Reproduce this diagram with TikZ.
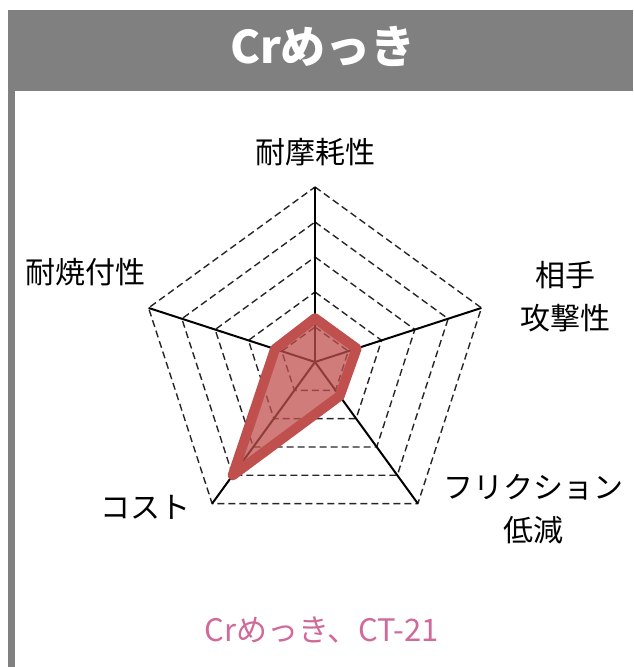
\documentclass[tikz,border=0pt]{standalone}
\usepackage{fontspec}
\setmainfont{Noto Sans CJK JP}
\usetikzlibrary{calc}
\definecolor{framegray}{RGB}{128,128,128}
\definecolor{chartred}{RGB}{192,80,77}
\definecolor{captionpink}{RGB}{207,106,155}
\begin{document}
\begin{tikzpicture}[x=1pt, y=-1pt,
        every node/.style={font=\fontsize{30}{43}\selectfont, align=center, inner sep=0pt},
        ring/.style={dash pattern=on 7pt off 4pt, line width=1.4pt, black!85},
        spoke/.style={line width=2pt, black},
        score/.style={draw=chartred, fill=chartred, fill opacity=0.75, line width=10pt, line join=round}]
    \useasboundingbox (0,0) rectangle (633,667);

    % Frame and title
    \fill[framegray] (8,10) rectangle (633,91);
    \fill[framegray] (8,91) rectangle (15,667);
    \node[text=white, font=\fontsize{45}{50}\selectfont\bfseries] (title) at (323,46) {Crめっき};

    % Axis ends
    \coordinate (c) at (315,362);
    \foreach \i/\a in {1/90, 2/18, 3/-54, 4/-126, 5/162} {
        \coordinate (a\i) at ($(c)+(\a:175pt)$);
    }

    % Dashed rings and spokes
    \foreach \k in {1,...,5} {
        \draw[ring] ($(c)!\k/5!(a1)$) -- ($(c)!\k/5!(a2)$) -- ($(c)!\k/5!(a3)$)
            -- ($(c)!\k/5!(a4)$) -- ($(c)!\k/5!(a5)$) -- cycle;
    }
    \foreach \i in {1,...,5} \draw[spoke] (c) -- (a\i);

    % Scores
    \draw[score] ($(c)!0.25!(a1)$) -- ($(c)!0.25!(a2)$) -- ($(c)!0.24!(a3)$)
        -- ($(c)!0.8!(a4)$) -- ($(c)!0.24!(a5)$) -- cycle;

    % Axis labels
    \node (l1) at (315,152) {耐摩耗性};
    \node (l2) at (565,297) {相手\\攻撃性};
    \node (l3) at (533,509) {フリクション\\低減};
    \node (l4) at (85,272) {耐焼付性};
    \node (l5) at (145,507) {コスト};

    % Caption
    \node[text=captionpink, font=\fontsize{31}{40}\selectfont] (caption) at (322,630) {Crめっき、CT-21};
\end{tikzpicture}
\end{document}
